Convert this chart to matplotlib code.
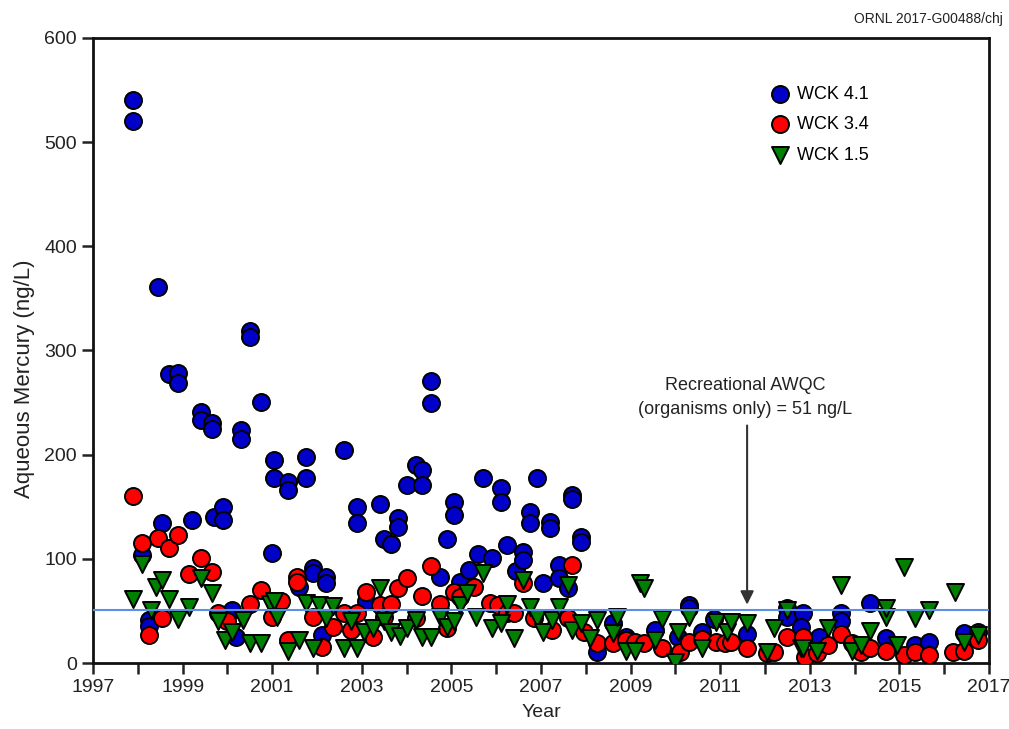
import matplotlib
matplotlib.use("Agg")
import matplotlib.pyplot as plt
from matplotlib.ticker import FixedLocator, MultipleLocator

plt.rcParams['font.family'] = ['Liberation Sans', 'DejaVu Sans']

# WCK 4.1 samples (decimal year, ng/L)
wck41_year = [1997.9, 1997.9, 1998.1, 1998.25, 1998.25, 1998.45, 1998.55, 1998.7, 1998.9, 1998.9,
              1999.2, 1999.4, 1999.4, 1999.65, 1999.65, 1999.7, 1999.9, 1999.9, 2000.1, 2000.2,
              2000.3, 2000.3, 2000.5, 2000.5, 2000.75, 2001.0, 2001.05, 2001.05, 2001.35, 2001.35,
              2001.6, 2001.75, 2001.75, 2001.9, 2001.9, 2002.1, 2002.2, 2002.2, 2002.6, 2002.9,
              2002.9, 2003.1, 2003.4, 2003.5, 2003.65, 2003.8, 2003.8, 2004.0, 2004.2, 2004.35,
              2004.35, 2004.55, 2004.55, 2004.75, 2004.9, 2005.05, 2005.05, 2005.2, 2005.4, 2005.6,
              2005.7, 2005.9, 2006.1, 2006.1, 2006.25, 2006.45, 2006.6, 2006.6, 2006.75, 2006.75,
              2006.9, 2007.05, 2007.2, 2007.2, 2007.4, 2007.4, 2007.6, 2007.7, 2007.7, 2007.9,
              2007.9, 2008.25, 2008.6, 2008.9, 2009.55, 2010.05, 2010.3, 2010.3, 2010.6, 2010.85,
              2011.6, 2012.5, 2012.5, 2012.85, 2012.8, 2013.2, 2013.7, 2013.7, 2014.35, 2014.7,
              2015.35, 2015.65, 2016.45, 2016.75]
wck41_hg = [540, 520, 104, 41, 36, 361, 134, 277, 278, 269,
            137, 241, 233, 230, 225, 140, 150, 137, 51, 25,
            224, 215, 319, 313, 251, 106, 195, 178, 174, 166,
            73, 198, 178, 91, 86, 27, 83, 77, 204, 150,
            134, 60, 153, 119, 114, 139, 131, 171, 190, 185,
            171, 271, 250, 83, 119, 155, 142, 78, 89, 105,
            178, 101, 168, 155, 113, 88, 107, 99, 145, 134,
            178, 77, 135, 130, 94, 82, 72, 161, 157, 121,
            116, 11, 38, 25, 32, 25, 56, 53, 30, 42,
            28, 53, 44, 48, 35, 25, 48, 40, 58, 24,
            17, 20, 29, 30]

# WCK 3.4 samples
wck34_year = [1997.9, 1998.1, 1998.25, 1998.45, 1998.55, 1998.7, 1998.9, 1999.15, 1999.4, 1999.65,
              1999.8, 2000.0, 2000.5, 2000.75, 2001.0, 2001.2, 2001.35, 2001.55, 2001.55, 2001.9,
              2002.1, 2002.35, 2002.6, 2002.75, 2002.9, 2003.1, 2003.25, 2003.4, 2003.5, 2003.65,
              2003.8, 2004.0, 2004.2, 2004.35, 2004.55, 2004.75, 2004.9, 2005.05, 2005.2, 2005.5,
              2005.85, 2006.05, 2006.25, 2006.4, 2006.6, 2006.85, 2007.25, 2007.6, 2007.7, 2007.95,
              2008.25, 2008.6, 2008.9, 2009.1, 2009.3, 2009.7, 2010.1, 2010.3, 2010.6, 2010.9,
              2011.1, 2011.25, 2011.6, 2012.05, 2012.2, 2012.5, 2012.85, 2012.9, 2013.15, 2013.4,
              2013.7, 2013.95, 2014.15, 2014.35, 2014.7, 2015.1, 2015.35, 2015.65, 2016.2, 2016.45,
              2016.75]
wck34_hg = [160, 115, 27, 120, 43, 110, 123, 85, 101, 87,
            48, 40, 57, 70, 44, 60, 22, 83, 78, 44,
            15, 35, 48, 32, 48, 68, 25, 56, 44, 57,
            72, 82, 43, 64, 93, 57, 34, 68, 63, 73,
            58, 56, 48, 48, 77, 43, 32, 43, 94, 30,
            19, 19, 22, 20, 19, 14, 11, 20, 23, 20,
            19, 20, 14, 10, 11, 25, 25, 6, 10, 17,
            28, 19, 11, 14, 12, 8, 11, 8, 11, 12,
            22]

# WCK 1.5 samples
wck15_year = [1997.9, 1998.1, 1998.3, 1998.4, 1998.55, 1998.7, 1998.9, 1999.15, 1999.4, 1999.65,
              1999.8, 1999.95, 2000.1, 2000.35, 2000.5, 2000.75, 2000.95, 2001.05, 2001.1, 2001.35,
              2001.6, 2001.75, 2001.9, 2002.05, 2002.2, 2002.35, 2002.6, 2002.75, 2002.9, 2003.05,
              2003.25, 2003.4, 2003.5, 2003.65, 2003.85, 2004.0, 2004.2, 2004.35, 2004.55, 2004.75,
              2004.9, 2005.05, 2005.2, 2005.35, 2005.55, 2005.7, 2005.9, 2006.1, 2006.25, 2006.4,
              2006.6, 2006.75, 2006.9, 2007.05, 2007.25, 2007.4, 2007.6, 2007.7, 2007.9, 2008.1,
              2008.25, 2008.6, 2008.7, 2008.9, 2009.1, 2009.2, 2009.3, 2009.55, 2009.7, 2010.0,
              2010.05, 2010.3, 2010.6, 2010.9, 2011.15, 2011.25, 2011.6, 2012.05, 2012.2, 2012.5,
              2012.8, 2012.85, 2013.15, 2013.4, 2013.7, 2013.95, 2014.15, 2014.35, 2014.7, 2014.7,
              2014.95, 2015.1, 2015.35, 2015.65, 2016.25, 2016.45, 2016.75]
wck15_hg = [61, 95, 51, 73, 80, 61, 42, 54, 82, 67,
            40, 22, 30, 41, 19, 19, 57, 60, 44, 12,
            22, 58, 14, 56, 43, 55, 14, 40, 14, 30,
            34, 72, 40, 30, 26, 34, 41, 25, 25, 44,
            35, 40, 56, 67, 44, 86, 34, 38, 57, 24,
            80, 54, 43, 30, 41, 54, 75, 32, 38, 24,
            41, 29, 44, 12, 12, 77, 72, 22, 42, 1,
            30, 44, 14, 39, 30, 39, 38, 11, 34, 51,
            14, 14, 12, 34, 75, 12, 17, 31, 44, 53,
            17, 92, 43, 51, 68, 20, 27]

AWQC = 51  # recreational criterion, organisms only (ng/L)
year_labels = list(range(1997, 2018, 2))
year_minor = list(range(1998, 2017, 2))

fig = plt.figure(figsize=(10.09, 7.29), dpi=100)
ax = fig.add_axes([0.0922, 0.0905, 0.888, 0.8575])

ms = 150
ax.scatter(wck41_year, wck41_hg, s=ms, marker='o', facecolor='#0000c8', edgecolor='black',
           linewidth=1.4, label='WCK 4.1', zorder=3)
ax.scatter(wck34_year, wck34_hg, s=ms, marker='o', facecolor='#ff0000', edgecolor='black',
           linewidth=1.4, label='WCK 3.4', zorder=4)
ax.scatter(wck15_year, wck15_hg, s=ms, marker='v', facecolor='#008000', edgecolor='black',
           linewidth=1.4, label='WCK 1.5', zorder=5)

ax.axhline(AWQC, color='#5b8fe8', linewidth=1.5, zorder=6)

ax.annotate('', xy=(2011.6, AWQC + 5), xytext=(2011.6, 228),
            arrowprops=dict(arrowstyle='-|>', color='#333333', lw=1.5,
                            mutation_scale=20, shrinkA=0, shrinkB=0), zorder=7)
ax.text(2011.55, 255, 'Recreational AWQC\n(organisms only) = 51 ng/L', ha='center', va='center',
        fontsize=13, linespacing=1.55, color='#222222')

ax.set_xlim(1997, 2017)
ax.set_ylim(0, 600)
ax.xaxis.set_major_locator(FixedLocator(year_labels))
ax.xaxis.set_minor_locator(FixedLocator(year_minor))
ax.yaxis.set_major_locator(MultipleLocator(100))
ax.tick_params(axis='both', which='both', direction='out', length=8, width=1.8,
               labelsize=14, colors='#222222')
for sp in ax.spines.values():
    sp.set_linewidth(2)
    sp.set_color('#111111')

ax.set_xlabel('Year', fontsize=14, color='#222222', labelpad=6)
ax.set_ylabel('Aqueous Mercury (ng/L)', fontsize=16, color='#222222')
ax.yaxis.set_label_coords(-0.065, 0.455)

leg = ax.legend(loc='upper right', bbox_to_anchor=(0.8795, 0.944), frameon=False,
                fontsize=13, handletextpad=-0.1, labelspacing=0.75, borderaxespad=0.3,
                scatterpoints=1)

fig.text(0.994, 0.974, 'ORNL 2017-G00488/chj', ha='right', va='center', fontsize=10,
         color='#222222')

fig.savefig('out.png', dpi=100)
